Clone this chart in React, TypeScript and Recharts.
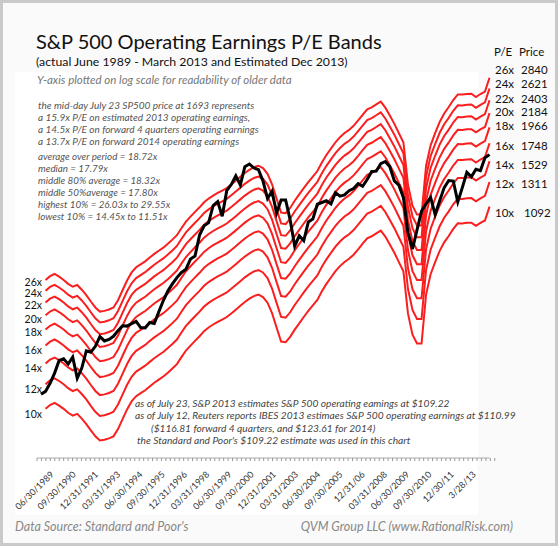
import { Line, LineChart, XAxis, YAxis } from "recharts"

// quarterly closes, 9/30/1988 .. 6/30/2013
const prices = [
	271.91, 277.72, 294.87, 317.98, 349.15, 353.4, 339.94, 358.02, 306.05, 330.22,
	375.22, 371.16, 387.86, 417.09, 403.69, 408.14, 417.8, 435.71, 451.67, 450.53,
	458.93, 466.45, 445.77, 444.27, 462.69, 459.27, 500.71, 544.75, 584.41, 615.93,
	645.5, 670.63, 687.31, 740.74, 757.12, 885.14, 947.28, 970.43, 1101.75, 1133.84,
	1017.01, 1229.23, 1286.37, 1372.71, 1282.71, 1469.25, 1498.58, 1454.6, 1436.51, 1320.28,
	1160.33, 1224.42, 1040.94, 1148.08, 1147.39, 989.82, 815.28, 879.82, 848.18, 974.5,
	995.97, 1111.92, 1126.21, 1140.84, 1114.58, 1211.92, 1180.59, 1191.33, 1228.81, 1248.29,
	1294.83, 1270.2, 1335.85, 1418.3, 1420.86, 1503.35, 1526.75, 1468.36, 1322.7, 1280.0,
	1166.36, 903.25, 797.87, 919.32, 1057.08, 1115.1, 1169.43, 1030.71, 1141.2, 1257.64,
	1325.83, 1320.64, 1131.42, 1257.6, 1408.47, 1362.16, 1440.67, 1426.19, 1569.19, 1606.28,
]

// trailing operating EPS, last value = 2013 estimate
const eps = [
	null, 24.4, 25.1, 25.5, 25.0, 24.4, 23.7, 23.2, 23.5, 22.7,
	21.8, 20.8, 19.9, 19.3, 19.4, 19.6, 19.9, 21.0, 22.6, 24.3,
	25.8, 26.8, 27.4, 28.0, 28.8, 29.6, 30.3, 31.0, 31.9, 32.9,
	34.0, 35.8, 37.6, 39.0, 40.4, 41.8, 43.4, 44.6, 45.6, 46.5,
	47.3, 48.2, 49.5, 50.9, 52.4, 53.9, 55.2, 56.3, 56.9, 55.9,
	53.6, 49.6, 44.6, 40.2, 40.0, 41.6, 43.9, 46.0, 48.2, 50.4,
	52.5, 54.7, 58.3, 61.6, 64.6, 67.7, 70.3, 72.5, 74.2, 76.5,
	79.6, 83.0, 86.4, 87.7, 89.6, 91.5, 87.5, 82.5, 77.6, 72.4,
	67.6, 49.5, 42.3, 39.6, 39.6, 56.9, 66.2, 72.4, 78.7, 83.8,
	87.9, 92.6, 96.5, 96.4, 96.9, 97.0, 94.7, 96.8, 98.6, 109.22,
]

const multiples = [10, 12, 14, 16, 18, 20, 22, 24, 26]

const axisLabels = [
	"06/30/1989", "09/30/1990", "12/31/1991", "03/31/1993", "06/30/1994",
	"09/30/1995", "12/31/1996", "03/31/1998", "06/30/1999", "09/30/2000",
	"12/31/2001", "03/31/2003", "06/30/2004", "09/30/2005", "12/31/06",
	"03/31/2008", "06/30/2009", "09/30/2010", "12/30/11", "3/28/13",
]

const rightRows = [
	["26x", "2840"], ["24x", "2621"], ["22x", "2403"], ["20x", "2184"], ["18x", "1966"],
	["16x", "1748"], ["14x", "1529"], ["12x", "1311"], ["10x", "1092"],
]
const rightY = [73.5, 88, 102.5, 116, 130, 150, 168.5, 187.5, 217]
const leftY = [286, 297, 308.5, 322.5, 336, 353.5, 371.5, 392.5, 418]

const notesTop = [
	"the mid-day July 23 SP500 price at 1693 represents",
	"a 15.9x P/E on estimated 2013 operating earnings,",
	"a 14.5x P/E on forward 4 quarters operating earnings",
	"a 13.7x P/E on forward 2014 operating earnings",
]
const notesStats = [
	"average over period = 18.72x",
	"median = 17.79x",
	"middle 80% average = 18.32x",
	"middle 50%average = 17.80x",
	"highest 10% = 26.03x to 29.55x",
	"lowest 10% = 14.45x to 11.51x",
]
const notesBottom = [
	"as of July 23, S&P 2013 estimates S&P 500 operating eamings at $109.22",
	"as of July 12, Reuters reports IBES 2013 estimaes S&P 500 operating earnings at $110.99",
	"($116.81 forward 4 quarters, and $123.61 for 2014)",
	"the Standard and Poor's $109.22 estimate was used in this chart",
]

const rows = prices.map((p, i) => {
	const row: Record<string, number | null> = { q: i, price: p }
	multiples.forEach((m) => {
		const e = eps[i]
		row["pe" + m] = e == null ? null : Math.round(e * m * 10) / 10
	})
	return row
})

const catTicks = Array.from({ length: 104 }, (_, i) => i)

const font = "Lato, 'Open Sans', sans-serif"

function DateTick(props: any) {
	const { x, y, payload } = props
	const k = (payload.value - 3) / 5
	if (!Number.isInteger(k) || k < 0 || k >= axisLabels.length) return <g />
	const ax = x + 4
	const ay = y + 12
	return (
		<text
			x={ax}
			y={ay}
			transform={`rotate(-45 ${ax} ${ay})`}
			textAnchor="end"
			fontSize={9}
			fontFamily={font}
			fill="#333"
		>
			{axisLabels[k]}
		</text>
	)
}

export default function App() {
	return (
		<div style={{ position: "absolute", left: 0, top: 0, width: 558, height: 546, background: "#fafafa", fontFamily: font }}>
			<div style={{ position: "absolute", inset: 0, border: "3px solid #c9c9c9", boxSizing: "border-box" }} />
			<div style={{ position: "absolute", left: 15, top: 72, width: 463, height: 443, background: "#fff" }} />
			<div style={{ position: "absolute", left: 0, top: 0 }}>
				<LineChart width={558} height={546} data={rows} margin={{ top: 60, left: 37, right: 68.5, bottom: 28 }}>
					<XAxis xAxisId="q" dataKey="q" type="number" domain={[0, 99]} hide padding={{ left: 4, right: 0 }} />
					<XAxis
						xAxisId="cat"
						type="number"
						domain={[0, 103]}
						allowDataOverflow
						ticks={catTicks}
						interval={0}
						tick={<DateTick />}
						tickSize={3}
						tickLine={{ stroke: "#999" }}
						axisLine={{ stroke: "#aaa" }}
						padding={{ left: 0, right: 12.5 }}
						height={60}
					/>
					<YAxis hide scale="log" type="number" domain={[169.5, 3239]} allowDataOverflow />
					{multiples.map((m) => (
						<Line
							key={m}
							xAxisId="q"
							dataKey={"pe" + m}
							stroke="#fa1e1e"
							strokeWidth={2}
							dot={false}
							isAnimationActive={false}
						/>
					))}
					<Line xAxisId="q" dataKey="price" stroke="#000" strokeWidth={3} dot={false} isAnimationActive={false} />
				</LineChart>
			</div>
			<svg width={558} height={546} style={{ position: "absolute", left: 0, top: 0, pointerEvents: "none" }} fontFamily={font}>
				<text x={36} y={48.5} fontSize={20} fill="#111">S&amp;P 500 Operating Earnings P/E Bands</text>
				<text x={36} y={66} fontSize={12.3} fill="#111">(actual June 1989 - March 2013 and Estimated Dec 2013)</text>
				<text x={37} y={84} fontSize={11.5} fill="#777" fontStyle="italic">Y-axis plotted on log scale for readability of older data</text>
				{notesTop.map((t, i) => (
					<text key={t} x={38} y={108.5 + i * 12} fontSize={10} fill="#555" fontStyle="italic">{t}</text>
				))}
				{notesStats.map((t, i) => (
					<text key={t} x={38} y={159.5 + i * 12} fontSize={9.8} fill="#555" fontStyle="italic">{t}</text>
				))}
				{notesBottom.map((t, i) => (
					<text key={t} x={i === 2 ? 151 : i === 3 ? 137 : 135} y={406.5 + i * 12.5} fontSize={10.2} fill="#444" fontStyle="italic">{t}</text>
				))}
				<text x={494} y={55.5} fontSize={11.5} fill="#111">P/E</text>
				<text x={519} y={55.5} fontSize={11.5} fill="#111">Price</text>
				{rightRows.map(([pe, px], i) => (
					<g key={pe}>
						<text x={495} y={rightY[i]} fontSize={11.5} fill="#111">{pe}</text>
						<text x={pe === "10x" ? 524 : 521} y={rightY[i]} fontSize={11.5} fill="#111">{px}</text>
					</g>
				))}
				{rightRows.map(([pe], i) => (
					<text key={"l" + pe} x={42} y={leftY[i]} fontSize={10.5} fill="#111" textAnchor="end">{pe}</text>
				))}
				<text x={15} y={531} fontSize={12.5} fill="#888" fontStyle="italic">Data Source: Standard and Poor's</text>
				<text x={513} y={531} fontSize={12.5} fill="#888" fontStyle="italic" textAnchor="end">QVM Group LLC (www.RationalRisk.com)</text>
			</svg>
		</div>
	)
}
